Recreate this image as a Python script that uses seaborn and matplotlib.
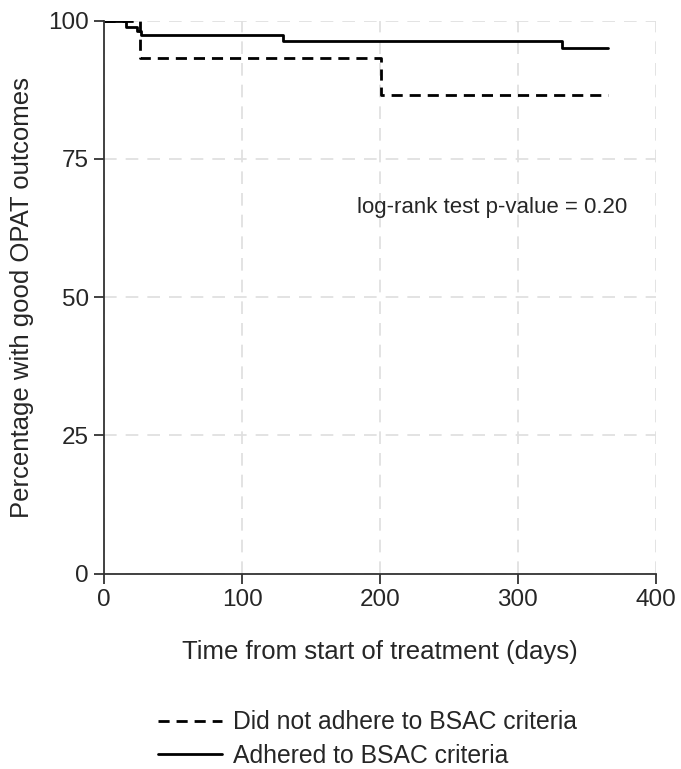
import numpy as np
import pandas as pd
import matplotlib
matplotlib.use("Agg")
import matplotlib.pyplot as plt
import seaborn as sns

# Kaplan-Meier step values
adhered_time = [0, 16, 24, 27, 130, 332, 365]
adhered_surv = [100, 98.9, 98.2, 97.5, 96.4, 95.1, 95.1]
not_adhered_time = [0, 26, 201, 365]
not_adhered_surv = [100, 93.3, 86.6, 86.6]

label_not = "Did not adhere to BSAC criteria"
label_adh = "Adhered to BSAC criteria"

df = pd.concat([
    pd.DataFrame({"time": not_adhered_time, "surv": not_adhered_surv, "group": label_not}),
    pd.DataFrame({"time": adhered_time, "surv": adhered_surv, "group": label_adh}),
])

sns.set_style("white")
plt.rcParams['font.family'] = ['Liberation Sans', 'DejaVu Sans']

fig = plt.figure(figsize=(6.81, 7.69), dpi=100)
ax = fig.add_axes([0.153, 0.254, 0.81, 0.719])

sns.lineplot(data=df, x="time", y="surv", hue="group", style="group",
             hue_order=[label_not, label_adh], style_order=[label_not, label_adh],
             palette={label_not: "black", label_adh: "black"},
             dashes={label_not: (4, 2.5), label_adh: ""},
             drawstyle="steps-post", estimator=None, linewidth=2,
             ax=ax, legend=True)

ax.set_xlim(0, 400)
ax.set_ylim(0, 100)
ax.set_xticks([0, 100, 200, 300, 400])
ax.set_yticks([0, 25, 50, 75, 100])
ax.grid(True, color="#e0e0e0", linestyle=(0, (7, 5)), linewidth=1.3)
ax.set_axisbelow(True)
for s in ["top", "right"]:
    ax.spines[s].set_visible(False)
for s in ["left", "bottom"]:
    ax.spines[s].set_color("#333333")
    ax.spines[s].set_linewidth(1.3)
ax.tick_params(axis="both", which="both", direction="out", length=7, width=1.3,
               color="#333333", labelsize=17.5, left=True, bottom=True, pad=4)
ax.set_xlabel("Time from start of treatment (days)", fontsize=18.5, labelpad=21)
ax.set_ylabel("Percentage with good OPAT outcomes", fontsize=18.5, labelpad=10)

ax.text(183, 66.3, "log-rank test p-value = 0.20", fontsize=16, va="center", ha="left")

handles, labels = ax.get_legend_handles_labels()
ax.get_legend().remove()
fig.legend(handles, labels, loc="upper center", bbox_to_anchor=(0.54, 0.089),
           frameon=False, fontsize=17.8, handlelength=2.6, handletextpad=0.45,
           labelspacing=0.38, borderaxespad=0)

fig.savefig("out.png", dpi=100)
